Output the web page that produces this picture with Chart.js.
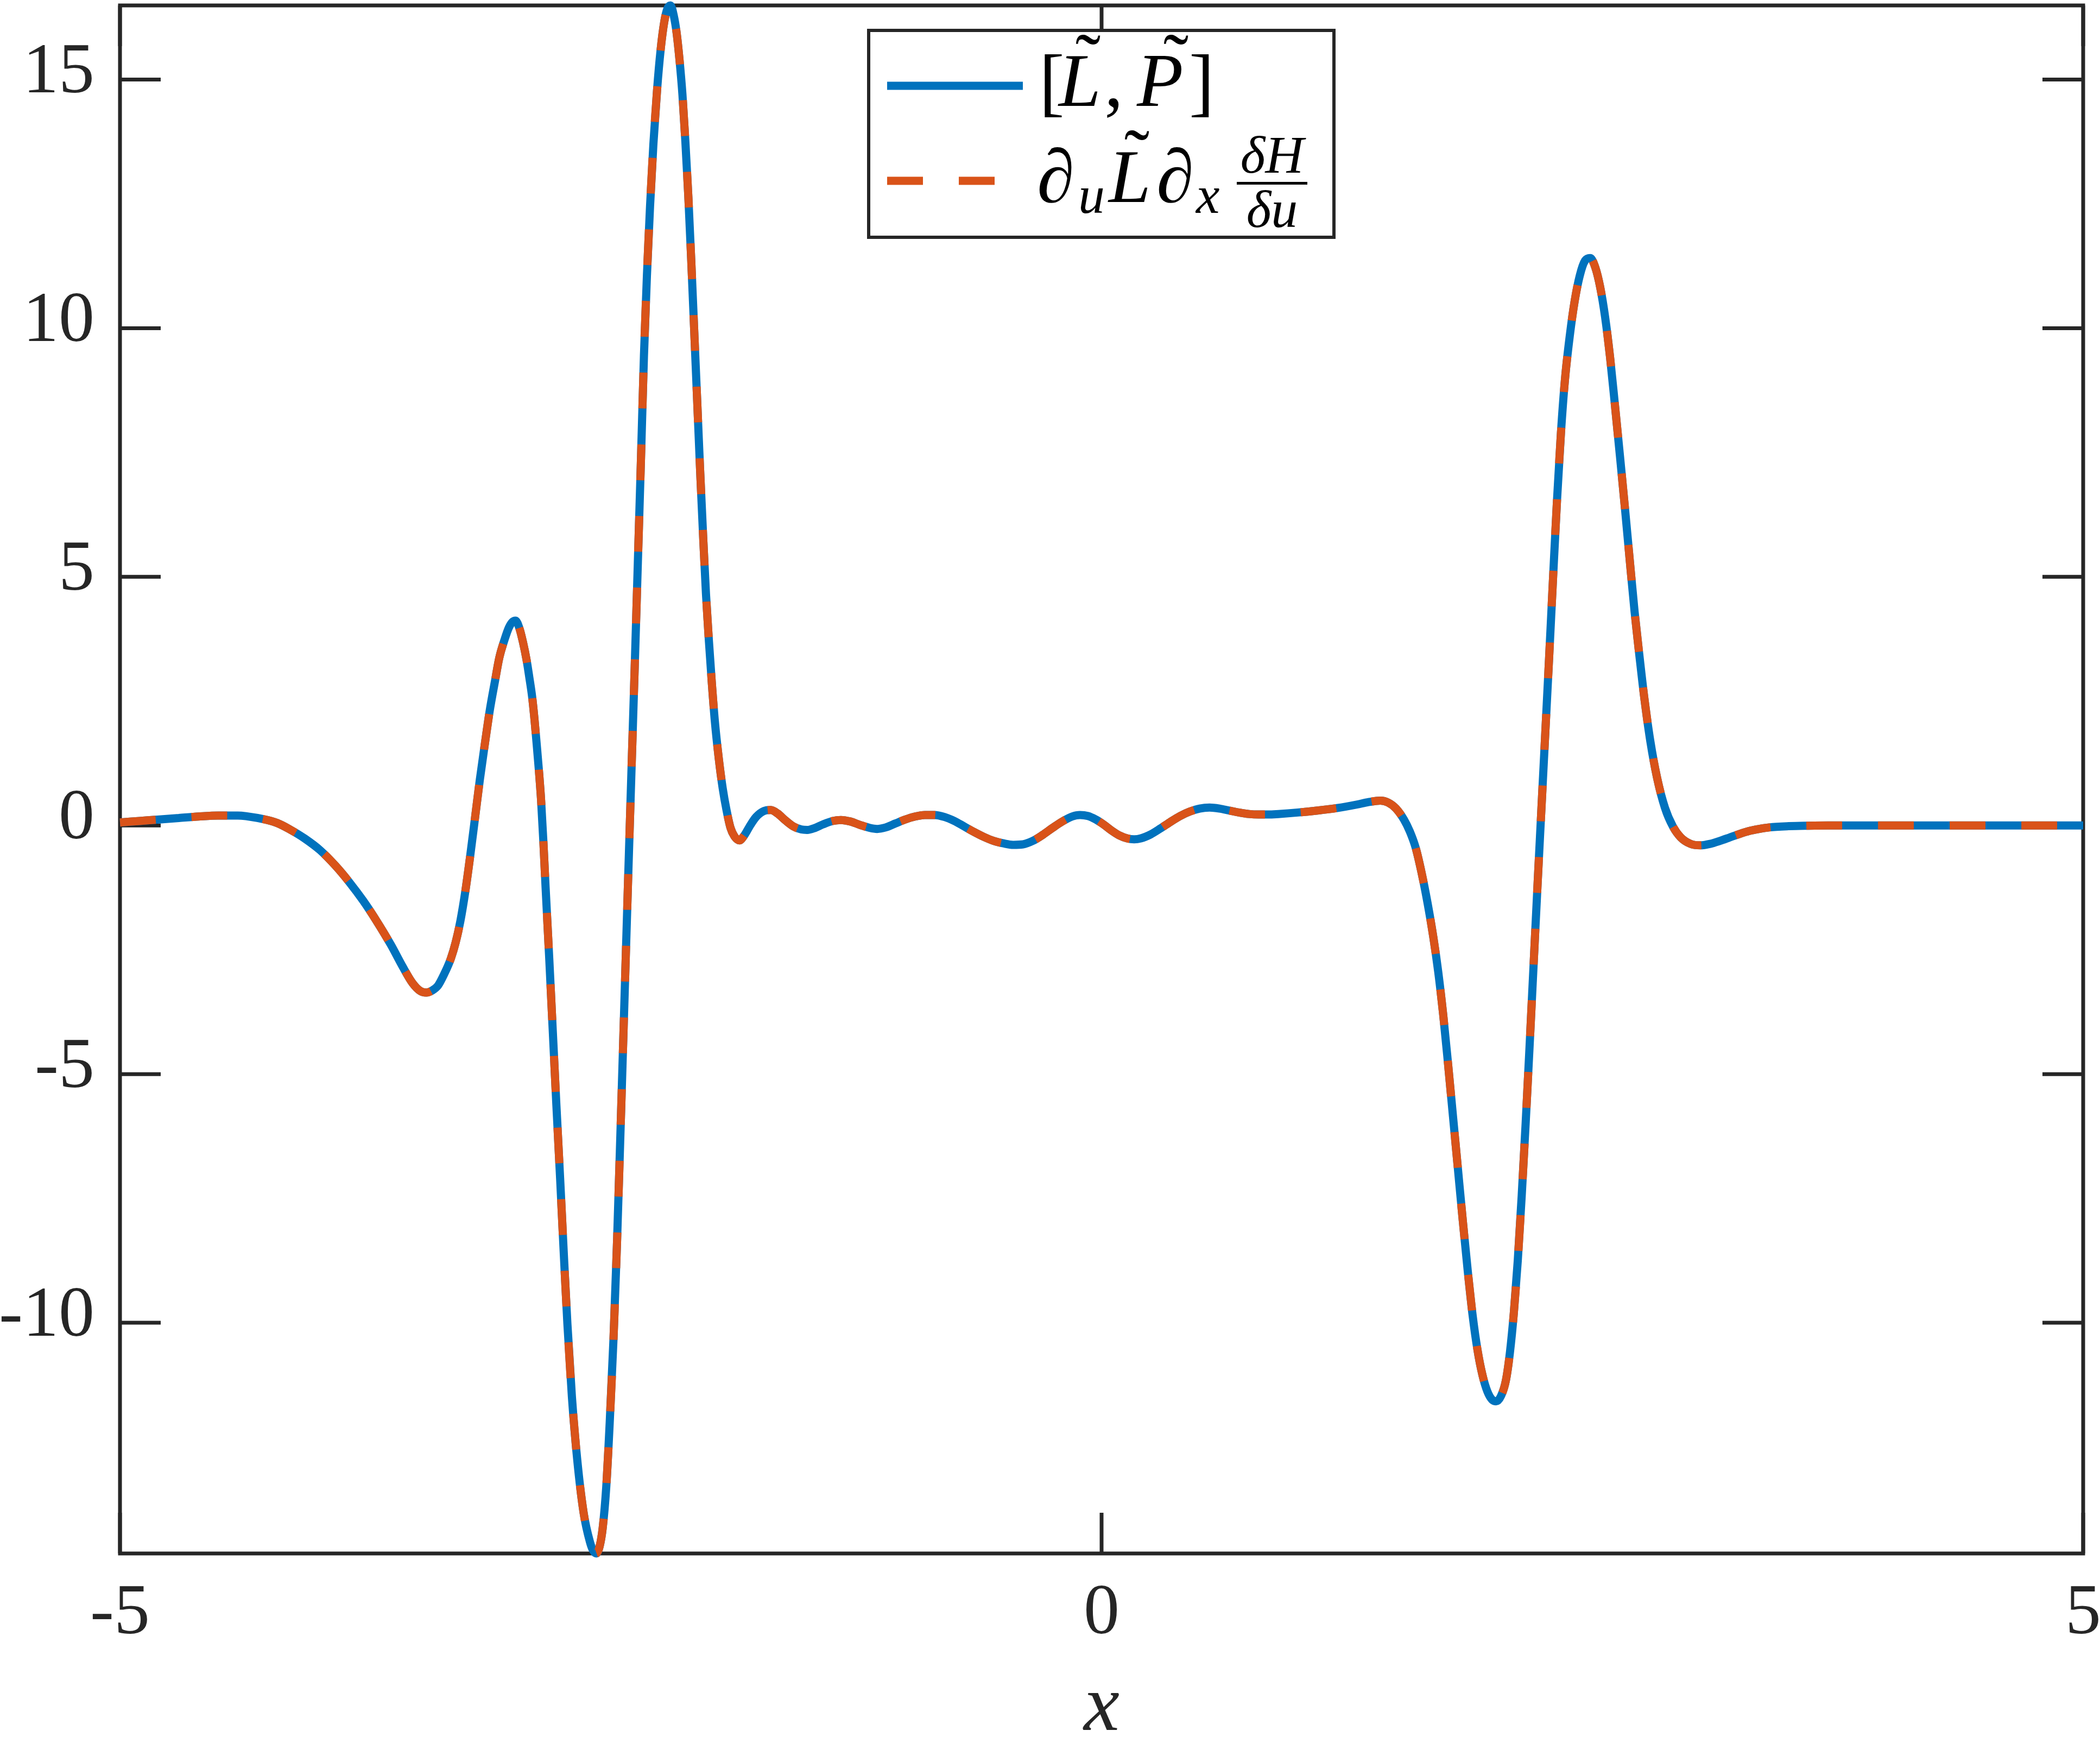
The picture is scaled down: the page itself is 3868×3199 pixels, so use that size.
<!DOCTYPE html>
<html>
<head>
<meta charset="utf-8">
<script src="https://cdn.jsdelivr.net/npm/chart.js@4.4.1/dist/chart.umd.min.js"></script>
<style>
html, body { margin: 0; padding: 0; background: #ffffff; overflow: hidden; }
canvas { display: block; }
</style>
</head>
<body>
<canvas id="chart" width="3868" height="3199"></canvas>
<script>
// ---- data ----
const xValues = [
 -5.00, -4.90, -4.80, -4.70, -4.60, -4.50, -4.40, -4.30, -4.20, -4.13, -4.06, -3.98, -3.90, -3.83, -3.76, -3.69,
 -3.62, -3.56, -3.51, -3.47, -3.44, -3.41, -3.38, -3.35, -3.315, -3.29, -3.266, -3.24, -3.216, -3.19, -3.167, -3.14,
 -3.117, -3.09, -3.068, -3.04, -3.019, -2.999, -2.985, -2.965, -2.947, -2.929, -2.915, -2.901, -2.889, -2.878, -2.866, -2.855,
 -2.843, -2.832, -2.813, -2.795, -2.777, -2.758, -2.740, -2.721, -2.698, -2.671, -2.638, -2.606, -2.590, -2.574, -2.557, -2.541,
 -2.523, -2.505, -2.486, -2.468, -2.449, -2.431, -2.413, -2.395, -2.378, -2.362, -2.346, -2.331, -2.316, -2.300, -2.283, -2.264,
 -2.246, -2.228, -2.212, -2.196, -2.180, -2.165, -2.150, -2.135, -2.120, -2.105, -2.090, -2.075, -2.060, -2.045, -2.030, -2.015,
 -2.000, -1.985, -1.970, -1.950, -1.930, -1.910, -1.890, -1.870, -1.845, -1.820, -1.790, -1.760, -1.720, -1.685, -1.650, -1.610,
 -1.570, -1.530, -1.500, -1.460, -1.420, -1.370, -1.328, -1.280, -1.230, -1.180, -1.143, -1.100, -1.050, -1.000, -0.950, -0.900,
 -0.852, -0.800, -0.750, -0.700, -0.650, -0.600, -0.550, -0.500, -0.450, -0.400, -0.350, -0.300, -0.250, -0.200, -0.150, -0.110,
 -0.070, -0.030, 0.010, 0.050, 0.090, 0.130, 0.166, 0.200, 0.250, 0.300, 0.350, 0.400, 0.450, 0.500, 0.550, 0.600,
 0.650, 0.700, 0.750, 0.800, 0.850, 0.900, 1.000, 1.100, 1.200, 1.300, 1.360, 1.420, 1.460, 1.500, 1.540, 1.570,
 1.600, 1.630, 1.660, 1.690, 1.715, 1.740, 1.765, 1.790, 1.815, 1.840, 1.865, 1.890, 1.915, 1.940, 1.965, 1.990,
 2.010, 2.035, 2.060, 2.080, 2.100, 2.120, 2.140, 2.160, 2.180, 2.200, 2.220, 2.240, 2.260, 2.280, 2.300, 2.320,
 2.340, 2.360, 2.385, 2.410, 2.436, 2.463, 2.489, 2.515, 2.540, 2.565, 2.590, 2.615, 2.640, 2.665, 2.690, 2.715,
 2.740, 2.765, 2.795, 2.830, 2.870, 2.910, 2.950, 3.000, 3.050, 3.100, 3.150, 3.200, 3.250, 3.300, 3.350, 3.400,
 3.500, 3.600, 3.700, 4.000, 4.500, 5.000
];

// [L~, P~]
const commutatorValues = [
 0.06, 0.09, 0.12, 0.15, 0.18, 0.20, 0.20, 0.15, 0.05, -0.09, -0.26, -0.50, -0.82, -1.15, -1.52, -1.94,
 -2.40, -2.84, -3.17, -3.33, -3.36, -3.32, -3.22, -3.00, -2.68, -2.35, -1.92, -1.30, -0.61, 0.20, 0.92, 1.68,
 2.30, 2.90, 3.37, 3.75, 3.98, 4.10, 4.12, 3.96, 3.68, 3.33, 2.98, 2.60, 2.15, 1.66, 1.10, 0.51,
 -0.35, -1.25, -2.71, -4.17, -5.63, -7.10, -8.56, -10.02, -11.49, -12.75, -13.83, -14.41, -14.58, -14.64, -14.50, -14.12,
 -13.30, -11.97, -10.31, -8.36, -5.95, -3.60, -1.25, 1.05, 3.20, 5.30, 7.40, 9.45, 11.05, 12.45, 13.70, 14.80,
 15.60, 16.15, 16.42, 16.49, 16.30, 15.95, 15.40, 14.70, 13.75, 12.65, 11.35, 9.95, 8.55, 7.15, 5.85, 4.65,
 3.70, 2.85, 2.10, 1.35, 0.75, 0.30, -0.05, -0.22, -0.30, -0.20, 0.00, 0.17, 0.29, 0.31, 0.24, 0.10,
 -0.02, -0.08, -0.09, -0.05, 0.02, 0.09, 0.11, 0.08, 0.01, -0.05, -0.07, -0.04, 0.04, 0.12, 0.18, 0.21,
 0.21, 0.17, 0.09, -0.02, -0.13, -0.23, -0.31, -0.36, -0.39, -0.38, -0.31, -0.19, -0.05, 0.08, 0.18, 0.21,
 0.19, 0.12, 0.02, -0.10, -0.20, -0.26, -0.28, -0.26, -0.18, -0.06, 0.07, 0.19, 0.28, 0.34, 0.36, 0.34,
 0.30, 0.26, 0.23, 0.22, 0.22, 0.23, 0.26, 0.30, 0.35, 0.42, 0.47, 0.50, 0.46, 0.34, 0.12, -0.12,
 -0.45, -0.95, -1.55, -2.25, -2.95, -3.80, -4.80, -5.85, -6.90, -7.95, -8.95, -9.85, -10.55, -11.05, -11.38, -11.55,
 -11.58, -11.47, -11.15, -10.60, -9.80, -8.75, -7.45, -6.00, -4.45, -2.85, -1.25, 0.30, 1.85, 3.40, 5.00, 6.55,
 7.90, 8.95, 9.85, 10.55, 11.06, 11.36, 11.41, 11.22, 10.82, 10.22, 9.42, 8.45, 7.45, 6.42, 5.35, 4.30,
 3.40, 2.55, 1.70, 0.95, 0.35, -0.02, -0.24, -0.37, -0.40, -0.37, -0.31, -0.24, -0.17, -0.11, -0.07, -0.04,
 -0.015, -0.005, 0.00, 0.00, 0.00, 0.00
];

// ∂u L~ ∂x δH/δu (lies on top of the commutator everywhere in the picture)
const poissonValues = [
 0.06, 0.09, 0.12, 0.15, 0.18, 0.20, 0.20, 0.15, 0.05, -0.09, -0.26, -0.50, -0.82, -1.15, -1.52, -1.94,
 -2.40, -2.84, -3.17, -3.33, -3.36, -3.32, -3.22, -3.00, -2.68, -2.35, -1.92, -1.30, -0.61, 0.20, 0.92, 1.68,
 2.30, 2.90, 3.37, 3.75, 3.98, 4.10, 4.12, 3.96, 3.68, 3.33, 2.98, 2.60, 2.15, 1.66, 1.10, 0.51,
 -0.35, -1.25, -2.71, -4.17, -5.63, -7.10, -8.56, -10.02, -11.49, -12.75, -13.83, -14.41, -14.58, -14.64, -14.50, -14.12,
 -13.30, -11.97, -10.31, -8.36, -5.95, -3.60, -1.25, 1.05, 3.20, 5.30, 7.40, 9.45, 11.05, 12.45, 13.70, 14.80,
 15.60, 16.15, 16.42, 16.49, 16.30, 15.95, 15.40, 14.70, 13.75, 12.65, 11.35, 9.95, 8.55, 7.15, 5.85, 4.65,
 3.70, 2.85, 2.10, 1.35, 0.75, 0.30, -0.05, -0.22, -0.30, -0.20, 0.00, 0.17, 0.29, 0.31, 0.24, 0.10,
 -0.02, -0.08, -0.09, -0.05, 0.02, 0.09, 0.11, 0.08, 0.01, -0.05, -0.07, -0.04, 0.04, 0.12, 0.18, 0.21,
 0.21, 0.17, 0.09, -0.02, -0.13, -0.23, -0.31, -0.36, -0.39, -0.38, -0.31, -0.19, -0.05, 0.08, 0.18, 0.21,
 0.19, 0.12, 0.02, -0.10, -0.20, -0.26, -0.28, -0.26, -0.18, -0.06, 0.07, 0.19, 0.28, 0.34, 0.36, 0.34,
 0.30, 0.26, 0.23, 0.22, 0.22, 0.23, 0.26, 0.30, 0.35, 0.42, 0.47, 0.50, 0.46, 0.34, 0.12, -0.12,
 -0.45, -0.95, -1.55, -2.25, -2.95, -3.80, -4.80, -5.85, -6.90, -7.95, -8.95, -9.85, -10.55, -11.05, -11.38, -11.55,
 -11.58, -11.47, -11.15, -10.60, -9.80, -8.75, -7.45, -6.00, -4.45, -2.85, -1.25, 0.30, 1.85, 3.40, 5.00, 6.55,
 7.90, 8.95, 9.85, 10.55, 11.06, 11.36, 11.41, 11.22, 10.82, 10.22, 9.42, 8.45, 7.45, 6.42, 5.35, 4.30,
 3.40, 2.55, 1.70, 0.95, 0.35, -0.02, -0.24, -0.37, -0.40, -0.37, -0.31, -0.24, -0.17, -0.11, -0.07, -0.04,
 -0.015, -0.005, 0.00, 0.00, 0.00, 0.00
];

const xTickValues = [-5, 0, 5];
const xTickLabels = ['-5', '0', '5'];
const yTickValues = [-10, -5, 0, 5, 10, 15];
const yTickLabels = ['-10', '-5', '0', '5', '10', '15'];
const xLimits = [-5, 5];
const yLimits = [-14.64, 16.49];
const xAxisTitle = 'x';

// ---- styling ----
const FAMILY = "'Liberation Serif', 'DejaVu Serif', serif";
const AXIS_COLOR = '#262626';
const BLUE = '#0072BD';
const ORANGE = '#D95319';

const toPoints = (ys) => xValues.map((x, i) => ({ x: x, y: ys[i] }));

const axesBoxPlugin = {
  id: 'axesBox',
  beforeDatasetsDraw(chart) {
    const { ctx, chartArea, scales } = chart;
    const { left, right, top, bottom } = chartArea;
    const tick = 75;
    ctx.save();
    ctx.strokeStyle = AXIS_COLOR;
    ctx.lineWidth = 7;
    ctx.lineCap = 'butt';
    ctx.beginPath();
    yTickValues.forEach(v => {
      const py = scales.y.getPixelForValue(v);
      ctx.moveTo(left, py); ctx.lineTo(left + tick, py);
      ctx.moveTo(right, py); ctx.lineTo(right - tick, py);
    });
    xTickValues.forEach(v => {
      const px = scales.x.getPixelForValue(v);
      ctx.moveTo(px, bottom); ctx.lineTo(px, bottom - tick);
      ctx.moveTo(px, top); ctx.lineTo(px, top + tick);
    });
    ctx.stroke();
    ctx.lineJoin = 'miter';
    ctx.strokeRect(left, top, right - left, bottom - top);
    ctx.restore();
  }
};

const mathLegendPlugin = {
  id: 'mathLegend',
  afterDatasetsDraw(chart) {
    const ctx = chart.ctx;
    const ds = chart.data.datasets;
    const bx = 1600, by = 56, bw = 857, bh = 381;
    ctx.save();
    ctx.fillStyle = '#ffffff';
    ctx.fillRect(bx, by, bw, bh);
    ctx.lineWidth = 6;
    ctx.strokeStyle = AXIS_COLOR;
    ctx.strokeRect(bx, by, bw, bh);

    const rowY = [158, 333];
    rowY.forEach((yy, i) => {
      ctx.beginPath();
      ctx.setLineDash(ds[i].borderDash || []);
      ctx.lineDashOffset = 0;
      ctx.strokeStyle = ds[i].borderColor;
      ctx.lineWidth = ds[i].borderWidth;
      ctx.lineCap = 'butt';
      ctx.moveTo(1634, yy);
      ctx.lineTo(1884, yy);
      ctx.stroke();
    });
    ctx.setLineDash([]);

    ctx.fillStyle = '#000000';
    ctx.textBaseline = 'alphabetic';
    const BIG = 140, SMALL = 98;
    const txt = (s, x, y, size, italic, align) => {
      ctx.font = (italic ? 'italic ' : '') + size + 'px ' + FAMILY;
      ctx.textAlign = align || 'left';
      ctx.fillText(s, x, y);
    };
    const tilde = (cx, cy) => txt('\u02DC', cx, cy + 0.56 * BIG, BIG, false, 'center');

    // row 1 :  [L~, P~]
    txt('[', 1914, 197, BIG, false);
    txt('L', 1950, 195, BIG, true);
    tilde(2004, 80);
    txt(',', 2034, 195, BIG, false);
    txt('P', 2094, 195, BIG, true);
    tilde(2166, 80);
    txt(']', 2190, 197, BIG, false);

    // row 2 :  ∂u L~ ∂x δH/δu
    txt('\u2202', 1910, 372, BIG, true);
    txt('u', 1986, 392, SMALL, true);
    txt('L', 2042, 372, BIG, true);
    tilde(2094, 256);
    txt('\u2202', 2130, 372, BIG, true);
    txt('x', 2203, 392, SMALL, true);
    txt('\u03B4H', 2343, 318, SMALL, true, 'center');
    ctx.fillRect(2278, 335, 130, 5);
    txt('\u03B4u', 2343, 418, SMALL, true, 'center');
    ctx.restore();
  }
};

new Chart(document.getElementById('chart'), {
  type: 'line',
  data: {
    datasets: [
      {
        label: '[L\u0303, P\u0303]',
        data: toPoints(commutatorValues),
        borderColor: BLUE,
        borderWidth: 15,
        borderJoinStyle: 'round',
        pointRadius: 0,
        cubicInterpolationMode: 'monotone',
        fill: false,
        clip: false,
        order: 2
      },
      {
        label: '\u2202u L\u0303 \u2202x \u03B4H/\u03B4u',
        data: toPoints(poissonValues),
        borderColor: ORANGE,
        borderWidth: 15,
        borderDash: [66, 66],
        borderCapStyle: 'butt',
        borderJoinStyle: 'round',
        pointRadius: 0,
        cubicInterpolationMode: 'monotone',
        fill: false,
        clip: false,
        order: 1
      }
    ]
  },
  options: {
    responsive: false,
    animation: false,
    devicePixelRatio: 1,
    events: [],
    layout: { padding: { left: 0, right: 31, top: 10, bottom: 0 } },
    plugins: {
      legend: { display: false },
      tooltip: { enabled: false },
      title: { display: false }
    },
    scales: {
      x: {
        type: 'linear',
        position: 'bottom',
        min: xLimits[0],
        max: xLimits[1],
        grid: { display: false, drawTicks: false },
        border: { display: false },
        afterBuildTicks: (s) => { s.ticks = xTickValues.map(v => ({ value: v })); },
        afterFit: (s) => { s.height = 338; s.paddingLeft = 0; s.paddingRight = 0; },
        ticks: {
          autoSkip: false,
          maxRotation: 0,
          padding: 33,
          color: AXIS_COLOR,
          font: { family: FAMILY, size: 132 },
          callback: (v) => { const i = xTickValues.indexOf(v); return i >= 0 ? xTickLabels[i] : ''; }
        },
        title: {
          display: true,
          text: xAxisTitle,
          color: AXIS_COLOR,
          font: { family: FAMILY, size: 148, style: 'italic', lineHeight: 0.6 },
          padding: { top: 0, bottom: 8 }
        }
      },
      y: {
        type: 'linear',
        position: 'left',
        min: yLimits[0],
        max: yLimits[1],
        grid: { display: false, drawTicks: false },
        border: { display: false },
        afterBuildTicks: (s) => { s.ticks = yTickValues.map(v => ({ value: v })); },
        afterFit: (s) => { s.width = 221; s.paddingTop = 0; s.paddingBottom = 0; },
        ticks: {
          autoSkip: false,
          padding: 47,
          labelOffset: -11,
          color: AXIS_COLOR,
          font: { family: FAMILY, size: 132 },
          callback: (v) => { const i = yTickValues.indexOf(v); return i >= 0 ? yTickLabels[i] : ''; }
        }
      }
    }
  },
  plugins: [axesBoxPlugin, mathLegendPlugin]
});
</script>
</body>
</html>
